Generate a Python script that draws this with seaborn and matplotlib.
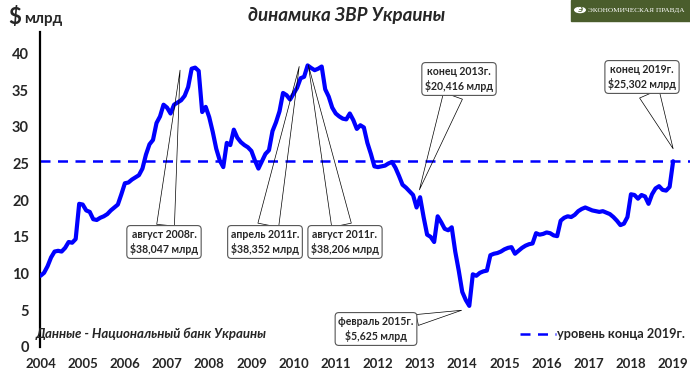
import numpy as np
import pandas as pd
import matplotlib
matplotlib.use("Agg")
import matplotlib.pyplot as plt
import seaborn as sns
from matplotlib.patches import Rectangle, Circle
from matplotlib.lines import Line2D

# Reserves of NBU, $ bn, end of month from Dec 2004 to Dec 2019
reserves = [
    9.7, 10.1, 11.0, 12.2, 13.0, 13.1, 13.0, 13.5, 14.3, 14.2, 14.7, 19.5,
    19.4, 18.6, 18.4, 17.4, 17.3, 17.6, 17.8, 18.1, 18.6, 19.0, 19.4, 20.8,
    22.3, 22.4, 22.8, 23.1, 23.4, 24.3, 26.2, 27.6, 28.2, 30.5, 31.4, 33.0,
    32.6, 31.8, 33.0, 33.3, 33.6, 34.2, 35.4, 37.9, 38.05, 37.6, 32.0, 32.7,
    31.3, 29.3, 27.0, 25.4, 24.5, 27.8, 27.5, 29.6, 28.5, 27.9, 27.5, 27.2,
    26.7, 25.4, 24.3, 25.3, 26.3, 26.8, 29.4, 30.6, 32.1, 34.6, 34.3, 33.7,
    34.5, 35.3, 36.6, 36.8, 38.35, 38.0, 37.7, 37.9, 38.2, 35.1, 34.1, 32.6,
    31.8, 31.4, 31.1, 31.0, 31.8, 30.9, 29.7, 30.2, 29.9, 27.8, 26.3, 24.6,
    24.5, 24.6, 24.7, 25.0, 25.2, 24.4, 23.3, 22.1, 21.7, 21.2, 20.7, 19.0,
    20.4, 17.7, 15.3, 15.0, 14.3, 17.8, 17.0, 16.1, 15.9, 16.3, 13.0, 10.4,
    7.5, 6.4, 5.6, 9.9, 9.7, 10.1, 10.3, 10.4, 12.5, 12.7, 12.8, 13.0,
    13.3, 13.5, 13.6, 12.7, 13.1, 13.5, 13.8, 14.0, 14.1, 15.5, 15.3, 15.4,
    15.6, 15.5, 15.2, 15.1, 17.2, 17.6, 17.8, 17.7, 18.0, 18.5, 18.8, 19.0,
    18.8, 18.6, 18.5, 18.4, 18.5, 18.3, 18.1, 17.7, 17.2, 16.6, 16.8, 17.7,
    20.8, 20.7, 20.2, 20.7, 20.5, 19.5, 20.8, 21.6, 21.9, 21.4, 21.3, 21.8,
    25.3,
]
years = list(range(2004, 2020))
level_2019 = 25.302

# callouts: text, tip (month index, value), box centre (image px), wedge width
callouts = [
    ("август 2008г.\n$38,047 млрд", (39.7, 37.7), (164, 242), 1.6),
    ("апрель 2011г.\n$38,352 млрд", (73.6, 38.2), (265, 242), 1.9),
    ("август 2011г.\n$38,206 млрд", (76.2, 38.4), (345, 242), 1.8),
    ("конец 2013г.\n$20,416 млрд", (107.8, 21.4), (459, 79), 1.8),
    ("конец 2019г.\n$25,302 млрд", (180, 27.0), (642, 77), 1.9),
    ("февраль 2015г.\n$5,625 млрд", (119.8, 5.0), (376, 329), 1.0),
]

df = pd.DataFrame({"month": np.arange(len(reserves)), "reserves": reserves})

sns.set_style("white")
plt.rcParams["font.family"] = ["Lato", "DejaVu Sans"]

W, H = 690, 374
fig = plt.figure(figsize=(6.9, 3.74), dpi=100)
ax = fig.add_axes([40 / W, 27 / H, 650 / W, 315 / H])

sns.lineplot(data=df, x="month", y="reserves", ax=ax, color="#0000ff",
             linewidth=3.0, zorder=3)
ax.axhline(level_2019, color="#0000ff", linewidth=1.8, dashes=(4, 3), zorder=2)

ax.set_xlim(-0.15, 184.8)
ax.set_ylim(0, 42.9)
ax.set_xticks(np.arange(0, 181, 12))
ax.set_xticklabels([str(y) for y in years])
ax.set_yticks(range(0, 41, 5))
ax.set_xlabel("")
ax.set_ylabel("")
for s in ["top", "right", "bottom"]:
    ax.spines[s].set_visible(False)
ax.spines["left"].set_color("black")
ax.spines["left"].set_linewidth(1.6)
ax.tick_params(axis="y", direction="out", length=4, width=1.5, color="black",
               labelsize=10.5, pad=4)
ax.tick_params(axis="x", length=0, labelsize=9.5, pad=8)
for lab in ax.get_xticklabels() + ax.get_yticklabels():
    lab.set_fontweight("bold")

# callouts
for text, tip, box, tw in callouts:
    ax.annotate(text, xy=tip, xytext=(box[0], H - box[1]),
                textcoords="figure pixels", ha="center", va="center",
                fontsize=7.6, fontweight="bold", multialignment="center",
                linespacing=1.35, zorder=5,
                bbox=dict(boxstyle="round,pad=0.3,rounding_size=0.35",
                          fc="white", ec="#555555", lw=0.8),
                arrowprops=dict(arrowstyle=f"wedge,tail_width={tw}",
                                mutation_scale=8, fc="none", ec="black",
                                lw=0.5, shrinkA=0, shrinkB=0))

# title and units
fig.text(347 / W, 1 - 15 / H, "динамика ЗВР Украины", ha="center", va="center",
         fontsize=13.5, fontweight="bold", style="italic")
fig.text(8 / W, 1 - 18 / H, "$", ha="left", va="center", fontsize=16,
         fontweight="bold")
fig.text(24 / W, 1 - 19 / H, "млрд", ha="left", va="center", fontsize=11,
         fontweight="bold")

# source
fig.text(36 / W, 1 - 334 / H, "Данные - Национальный банк Украины",
         ha="left", va="center", fontsize=9.5, fontweight="bold",
         style="italic")

# legend
fig.add_artist(Line2D([520 / W, 556 / W], [1 - 334 / H, 1 - 334 / H],
                      color="#0000ff", linewidth=1.8, dashes=(4, 3)))
fig.text(557 / W, 1 - 334 / H, "уровень конца 2019г.", ha="left",
         va="center", fontsize=9.2, fontweight="bold")

# logo
fig.add_artist(Rectangle((571 / W, 1 - 21 / H), 119 / W, 21 / H,
                         transform=fig.transFigure, color="#4a5d2c"))
fig.add_artist(Circle((580 / W, 1 - 10 / H), 6 / W,
                      transform=fig.transFigure, fc="white", ec="none"))
fig.text(580 / W, 1 - 10 / H, "Э", ha="center", va="center", fontsize=5.5,
         fontweight="bold", color="#4a5d2c")
fig.text(588 / W, 1 - 10.5 / H, "ЭКОНОМИЧЕСКАЯ ПРАВДА", ha="left", va="center",
         fontsize=5.2, color="white", family=["Liberation Serif", "DejaVu Serif"])

fig.savefig("out.png", dpi=100)
